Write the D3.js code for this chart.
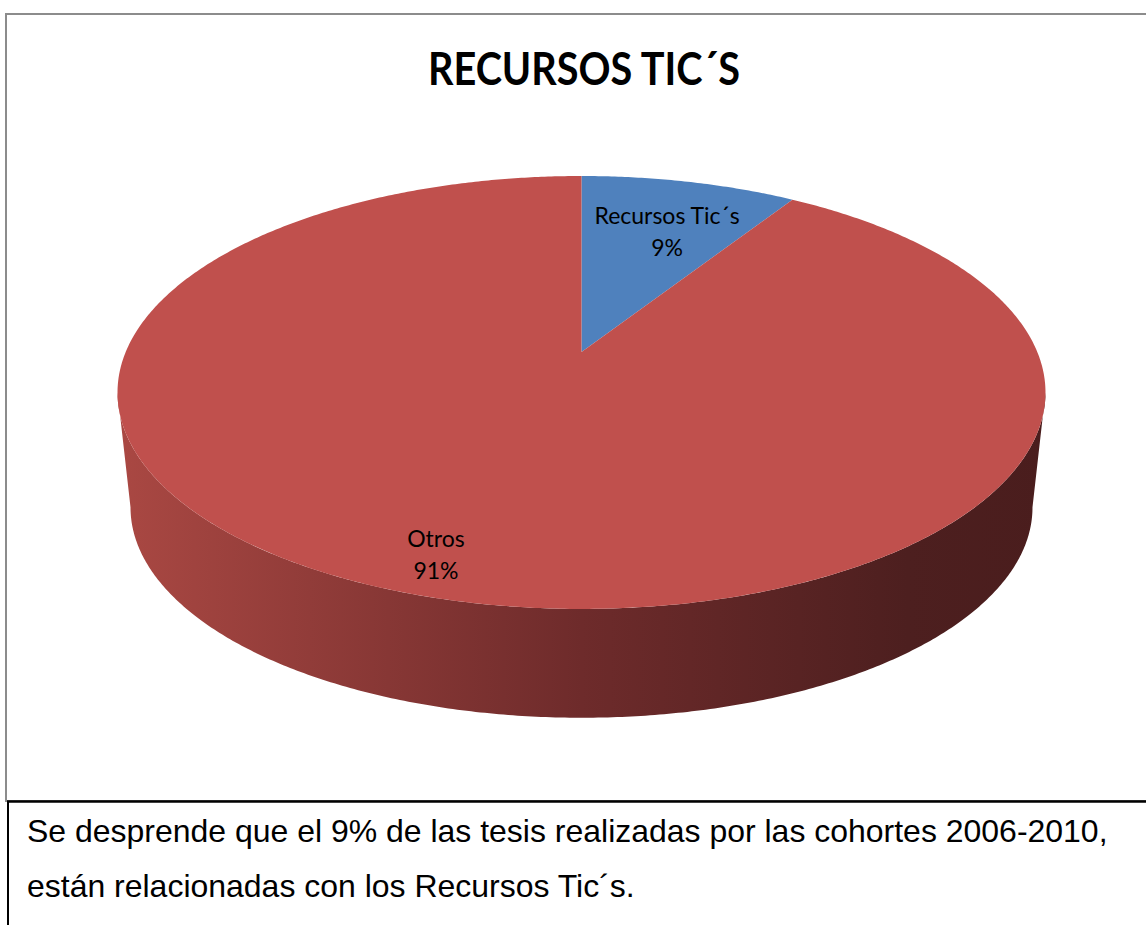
<!DOCTYPE html>
<html>
<head>
<meta charset="utf-8">
<script src="https://cdn.jsdelivr.net/npm/d3@7"></script>
<style>
  body { margin: 0; background: #fff; }
  svg { display: block; }
</style>
</head>
<body>
<div id="chart"></div>
<script>
// Data
var categories = ["Recursos Tic´s", "Otros"];
var values = [9, 91];
var percentLabels = ["9%", "91%"];
var colors = ["#4F81BD", "#C0504D"];
var chartTitle = "RECURSOS TIC´S";
var noteLines = [
  "Se desprende que el 9% de las tesis realizadas por las cohortes 2006-2010,",
  "están relacionadas con los Recursos Tic´s."
];

var svgWidth = 1146;
var svgHeight = 925;

var svg = d3.select("#chart")
  .append("svg")
  .attr("width", svgWidth)
  .attr("height", svgHeight);

// Chart frame
svg.append("rect")
  .attr("x", 6)
  .attr("y", 14)
  .attr("width", 1160)
  .attr("height", 787)
  .attr("fill", "none")
  .attr("stroke", "#8c8c8c")
  .attr("stroke-width", 2);

// Title
svg.append("text")
  .attr("x", 584)
  .attr("y", 85)
  .attr("text-anchor", "middle")
  .attr("textLength", 312)
  .attr("lengthAdjust", "spacingAndGlyphs")
  .style("font-family", "Lato, 'Open Sans', sans-serif")
  .style("font-weight", "bold")
  .style("font-size", "45px")
  .style("fill", "#000")
  .text(chartTitle);

// Perspective projection of the pie disc
var cx = 581.5;
var k = 0.187;            // perspective factor (back is smaller)
var A = 455.8;            // horizontal radius
var B = 208.9;            // vertical radius
var topY0 = 352;          // projected centre of the top face
var botScale = 0.972;
var botY0 = 468;

var xScale = d3.scaleLinear().domain([-1, 1]).range([cx - A, cx + A]);

function project(phi, r, bottom) {
  var u = r * Math.sin(phi);
  var v = r * Math.cos(phi);
  var w = 1 + k * v;
  var s = bottom ? botScale : 1;
  var y0 = bottom ? botY0 : topY0;
  var x = cx + (xScale(u / w) - cx) * s;
  var y = y0 - B * s * v / w;
  return [x, y];
}

var pie = d3.pie().sort(null).value(d => d);
var arcs = pie(values);

function sampleAngles(a0, a1) {
  var n = Math.max(2, Math.ceil((a1 - a0) / (Math.PI / 360)));
  return d3.range(n + 1).map(i => a0 + (a1 - a0) * i / n);
}

var line = d3.line();

// Side gradients
var defs = svg.append("defs");
var grad = defs.append("linearGradient")
  .attr("id", "sideGrad")
  .attr("gradientUnits", "userSpaceOnUse")
  .attr("x1", cx - A * 1.02).attr("y1", 0)
  .attr("x2", cx + A * 1.02).attr("y2", 0);
grad.append("stop").attr("offset", 0).attr("stop-color", "#aa4843");
grad.append("stop").attr("offset", 0.5).attr("stop-color", "#6e2b2b");
grad.append("stop").attr("offset", 0.85).attr("stop-color", "#4d1f1f");
grad.append("stop").attr("offset", 1).attr("stop-color", "#4a1d1d");

var gradBlue = defs.append("linearGradient")
  .attr("id", "sideGradBlue")
  .attr("gradientUnits", "userSpaceOnUse")
  .attr("x1", cx - A * 1.02).attr("y1", 0)
  .attr("x2", cx + A * 1.02).attr("y2", 0);
gradBlue.append("stop").attr("offset", 0).attr("stop-color", "#42699a");
gradBlue.append("stop").attr("offset", 1).attr("stop-color", "#1e3350");

// Visible front range of the side wall (between the silhouettes)
var frontStart = Math.acos(-k);
var frontEnd = 2 * Math.PI - Math.acos(-k);

var sides = svg.append("g");
arcs.forEach(function (a, i) {
  var s0 = Math.max(a.startAngle, frontStart);
  var s1 = Math.min(a.endAngle, frontEnd);
  if (s1 <= s0) return;
  var topPts = sampleAngles(s0, s1).map(p => project(p, 1, false));
  var botPts = sampleAngles(s0, s1).reverse().map(p => project(p, 1, true));
  sides.append("path")
    .attr("d", line(topPts.concat(botPts)) + "Z")
    .attr("fill", i === 0 ? "url(#sideGradBlue)" : "url(#sideGrad)");
});

// Top face slices
var center = project(0, 0, false);
svg.append("g")
  .selectAll("path")
  .data(arcs)
  .enter()
  .append("path")
  .attr("d", function (a) {
    var pts = sampleAngles(a.startAngle, a.endAngle).map(p => project(p, 1, false));
    return line([center].concat(pts)) + "Z";
  })
  .attr("fill", (a, i) => colors[i]);

// Data labels
var labelRadius = [0.70, 0.85];
var labelNudge = Math.PI / 90;
var labels = svg.append("g")
  .style("font-family", "Lato, 'Open Sans', sans-serif")
  .style("font-size", "23px")
  .style("fill", "#000");

arcs.forEach(function (a, i) {
  var mid = (a.startAngle + a.endAngle) / 2 + labelNudge;
  var p = project(mid, labelRadius[i], false);
  var t = labels.append("text")
    .attr("text-anchor", "middle");
  t.append("tspan").attr("x", p[0] - 3).attr("y", p[1] - 4).text(categories[i]);
  t.append("tspan").attr("x", p[0] - 3).attr("y", p[1] + 28).text(percentLabels[i]);
});

// Note box below the chart
svg.append("line")
  .attr("x1", 7).attr("x2", svgWidth)
  .attr("y1", 801.5).attr("y2", 801.5)
  .attr("stroke", "#000")
  .attr("stroke-width", 2.5);
svg.append("line")
  .attr("x1", 8).attr("x2", 8)
  .attr("y1", 801).attr("y2", svgHeight)
  .attr("stroke", "#000")
  .attr("stroke-width", 2);

var note = svg.append("g")
  .style("font-family", "'Liberation Sans', Arial, sans-serif")
  .style("font-size", "30px")
  .style("fill", "#000");

var noteText = note.selectAll("text")
  .data(noteLines)
  .enter()
  .append("text")
  .attr("x", 27)
  .attr("y", (d, i) => 842 + i * 55)
  .text(d => d);

// fit first line width to the reference
var w0 = noteText.node().getComputedTextLength();
note.style("font-size", (30 * 1081 / w0) + "px");
</script>
</body>
</html>
